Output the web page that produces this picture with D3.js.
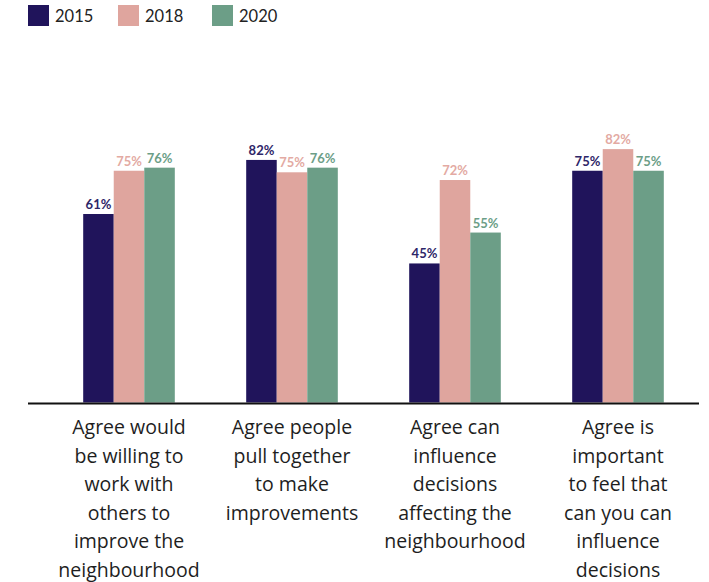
<!DOCTYPE html>
<html>
<head>
<meta charset="utf-8">
<script src="https://cdn.jsdelivr.net/npm/d3@7"></script>
<style>
  html, body { margin: 0; padding: 0; background: #ffffff; }
  svg { display: block; }
</style>
</head>
<body>
<svg id="chart" width="709" height="582"></svg>
<script>
// ---- Data ----
const categories = [
  "Agree would be willing to work with others to improve the neighbourhood",
  "Agree people pull together to make improvements",
  "Agree can influence decisions affecting the neighbourhood",
  "Agree is important to feel that can you can influence decisions"
];
const categoryLines = [
  ["Agree would", "be willing to", "work with", "others to", "improve the", "neighbourhood"],
  ["Agree people", "pull together", "to make", "improvements"],
  ["Agree can", "influence", "decisions", "affecting the", "neighbourhood"],
  ["Agree is", "important", "to feel that", "can you can", "influence", "decisions"]
];
const seriesNames = ["2015", "2018", "2020"];
// bar heights as drawn in the picture (percent)
const values2015 = [61, 78.5, 45, 75];
const values2018 = [75, 74.5, 72, 82];
const values2020 = [76, 76, 55, 75];
// printed labels
const labels2015 = ["61%", "82%", "45%", "75%"];
const labels2018 = ["75%", "75%", "72%", "82%"];
const labels2020 = ["76%", "76%", "55%", "75%"];

const seriesValues = [values2015, values2018, values2020];
const seriesLabels = [labels2015, labels2018, labels2020];
const barColors = ["#20145b", "#dfa59e", "#6c9e87"];
const labelColors = ["#2e2668", "#e3aaa3", "#6c9e87"];

// ---- Layout ----
const svg = d3.select("#chart");
const baseY = 402.5;

const x0 = d3.scaleBand()
  .domain(categories)
  .range([47.5, 699.5])
  .paddingInner(0.438)
  .paddingOuter(0.219);

const x1 = d3.scaleBand()
  .domain(seriesNames)
  .range([0, x0.bandwidth()])
  .padding(0);

const y = d3.scaleLinear().domain([0, 100]).range([baseY, baseY - 309]);

const rows = [];
categories.forEach((c, i) => {
  seriesNames.forEach((s, j) => {
    rows.push({ cat: c, series: s, j: j, value: seriesValues[j][i], label: seriesLabels[j][i] });
  });
});

const g = svg.append("g");

g.selectAll("rect.bar")
  .data(rows)
  .join("rect")
  .attr("class", "bar")
  .attr("x", d => x0(d.cat) + x1(d.series))
  .attr("y", d => y(d.value))
  .attr("width", x1.bandwidth())
  .attr("height", d => y(0) - y(d.value))
  .attr("fill", d => barColors[d.j]);

g.selectAll("text.val")
  .data(rows)
  .join("text")
  .attr("class", "val")
  .attr("x", d => x0(d.cat) + x1(d.series) + x1.bandwidth() / 2)
  .attr("y", d => y(d.value) - 5)
  .attr("text-anchor", "middle")
  .attr("font-family", "Lato, 'Open Sans', sans-serif")
  .attr("font-weight", 700)
  .attr("font-size", 13)
  .attr("fill", d => labelColors[d.j])
  .text(d => d.label);

// axis line
const xAxis = d3.axisBottom(x0).tickSize(0).tickFormat("");
const axG = svg.append("g").attr("transform", `translate(0,${baseY + 1})`).call(xAxis);
axG.select(".domain").remove();
axG.append("line")
  .attr("x1", 28).attr("x2", 699)
  .attr("y1", 0).attr("y2", 0)
  .attr("stroke", "#111").attr("stroke-width", 2.2);

// category labels
categories.forEach((c, i) => {
  const t = svg.append("text")
    .attr("x", x0(c) + x0.bandwidth() / 2)
    .attr("y", 434)
    .attr("text-anchor", "middle")
    .attr("font-family", "'Open Sans', Lato, sans-serif")
    .attr("font-size", 19.5)
    .attr("fill", "#1e1e1e");
  categoryLines[i].forEach((ln, k) => {
    t.append("tspan")
      .attr("x", x0(c) + x0.bandwidth() / 2)
      .attr("y", 434 + k * 28.6)
      .text(ln);
  });
});

// legend
const legendX = [28, 118, 212];
const lg = svg.append("g");
seriesNames.forEach((s, j) => {
  lg.append("rect")
    .attr("x", legendX[j]).attr("y", 5)
    .attr("width", 21).attr("height", 21)
    .attr("fill", barColors[j]);
  lg.append("text")
    .attr("x", legendX[j] + 27).attr("y", 21.5)
    .attr("font-family", "Lato, 'Open Sans', sans-serif")
    .attr("font-size", 16.5)
    .attr("fill", "#222")
    .text(s);
});
</script>
</body>
</html>
